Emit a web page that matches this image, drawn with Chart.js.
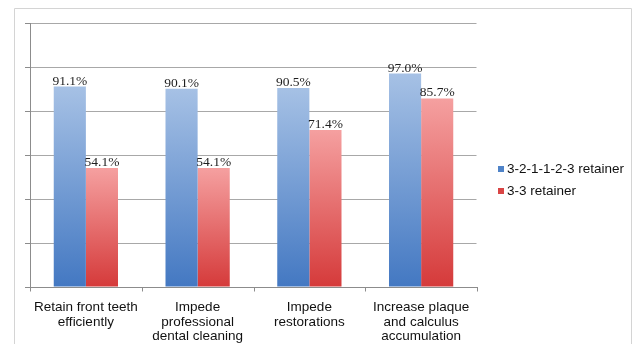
<!DOCTYPE html>
<html>
<head>
<meta charset="utf-8">
<script src="https://cdn.jsdelivr.net/npm/chart.js@4/dist/chart.umd.min.js"></script>
<style>
  html, body { margin: 0; padding: 0; background: #fff; }
  #wrap { position: relative; width: 638px; height: 344px; overflow: hidden; }
  canvas { position: absolute; left: 0; top: 0; }
</style>
</head>
<body>
<div id="wrap">
  <canvas id="c" width="638" height="344"></canvas>
</div>
<script>
// Survey items (multi-line category labels)
const categories = [
  ['Retain front teeth', 'efficiently'],
  ['Impede', 'professional', 'dental cleaning'],
  ['Impede', 'restorations'],
  ['Increase plaque', 'and calculus', 'accumulation']
];
const seriesNames = ['3-2-1-1-2-3 retainer', '3-3 retainer'];
const retainer321123 = [91.1, 90.1, 90.5, 97.0];
const retainer33 = [54.1, 54.1, 71.4, 85.7];
const yMin = 0, yMax = 120, yStep = 20;

const axisGrey = '#8c8c8c';
const gridGrey = '#a8a8a8';

// Vertical gradient for each bar: light at the top, saturated at the base
function barGradient(light, dark) {
  return function (context) {
    const chart = context.chart;
    if (!chart.chartArea || context.type !== 'data') return dark;
    const y = chart.scales.y;
    const top = y.getPixelForValue(context.raw);
    const base = y.getPixelForValue(0);
    const g = chart.ctx.createLinearGradient(0, top, 0, base);
    g.addColorStop(0, light);
    g.addColorStop(1, dark);
    return g;
  };
}

const legendSwatches = ['#4f83c8', '#d94545'];

// Thin outer frame around the whole figure
const outerFrame = {
  id: 'outerFrame',
  beforeDraw(chart) {
    const ctx = chart.ctx;
    ctx.save();
    ctx.strokeStyle = '#d4d4d4';
    ctx.lineWidth = 1;
    ctx.beginPath();
    ctx.moveTo(14.5, chart.height + 5);
    ctx.lineTo(14.5, 8.5);
    ctx.lineTo(631.5, 8.5);
    ctx.lineTo(631.5, chart.height + 5);
    ctx.stroke();
    ctx.restore();
  }
};

// Keep the right side of the plot open (no closing vertical edge)
const openRightEdge = {
  id: 'openRightEdge',
  afterDraw(chart) {
    const a = chart.chartArea;
    const ctx = chart.ctx;
    ctx.save();
    ctx.fillStyle = '#ffffff';
    ctx.fillRect(Math.round(a.right) - 0.5, a.top - 3, 3, a.bottom - a.top + 2);
    ctx.restore();
  }
};

// Short tick marks under the category axis, at the boundaries between categories
const categoryTicks = {
  id: 'categoryTicks',
  afterDraw(chart) {
    const x = chart.scales.x;
    const ctx = chart.ctx;
    const n = chart.data.labels.length;
    const half = (x.getPixelForValue(1) - x.getPixelForValue(0)) / 2;
    const yb = Math.round(chart.chartArea.bottom) + 0.5;
    ctx.save();
    ctx.strokeStyle = axisGrey;
    ctx.lineWidth = 1;
    ctx.beginPath();
    for (let i = 0; i <= n; i++) {
      const px = Math.round(x.getPixelForValue(0) - half + i * 2 * half) + 0.5;
      ctx.moveTo(px, yb);
      ctx.lineTo(px, yb + 4);
    }
    ctx.stroke();
    ctx.restore();
  }
};

// Value labels above each bar
const valueLabels = {
  id: 'valueLabels',
  afterDatasetsDraw(chart) {
    const ctx = chart.ctx;
    ctx.save();
    ctx.font = '13.5px "Liberation Serif", "Times New Roman", serif';
    ctx.fillStyle = '#1e1e1e';
    ctx.textAlign = 'center';
    ctx.textBaseline = 'alphabetic';
    chart.data.datasets.forEach((ds, i) => {
      chart.getDatasetMeta(i).data.forEach((bar, j) => {
        ctx.fillText(ds.data[j].toFixed(1) + '%', bar.x, bar.y - 2);
      });
    });
    ctx.restore();
  }
};

// Legend to the right of the plot
const sideLegend = {
  id: 'sideLegend',
  afterDraw(chart) {
    const ctx = chart.ctx;
    ctx.save();
    ctx.font = '13.5px "Liberation Sans", Arial, sans-serif';
    ctx.textBaseline = 'middle';
    ctx.textAlign = 'left';
    chart.data.datasets.forEach((ds, i) => {
      const cy = 169 + i * 22;
      ctx.fillStyle = legendSwatches[i];
      ctx.fillRect(498, cy - 3, 6, 6);
      ctx.fillStyle = '#111';
      ctx.fillText(ds.label, 507, cy + 0.5);
    });
    ctx.restore();
  }
};

new Chart(document.getElementById('c'), {
  type: 'bar',
  data: {
    labels: categories,
    datasets: [
      { label: seriesNames[0], data: retainer321123, backgroundColor: barGradient('#a6c1e5', '#4378c2') },
      { label: seriesNames[1], data: retainer33, backgroundColor: barGradient('#f5a0a0', '#d53a3a') }
    ]
  },
  options: {
    responsive: false,
    animation: false,
    devicePixelRatio: 1,
    layout: { padding: { left: 25, right: 161, top: 23, bottom: 0 } },
    datasets: { bar: { barPercentage: 1, categoryPercentage: 0.575, borderWidth: 0 } },
    plugins: { legend: { display: false }, tooltip: { enabled: false } },
    scales: {
      x: {
        afterFit(s) { s.height = 57; },
        grid: { display: false },
        border: { display: true, color: axisGrey, width: 1 },
        ticks: {
          color: '#111',
          padding: 5,
          font: { family: '"Liberation Sans", Arial, sans-serif', size: 13.5, lineHeight: 1.08 },
          maxRotation: 0,
          autoSkip: false
        }
      },
      y: {
        min: yMin,
        max: yMax,
        grid: { color: gridGrey, tickColor: axisGrey, tickLength: 5, drawTicks: true },
        border: { display: true, color: axisGrey, width: 1 },
        ticks: { display: false, stepSize: yStep }
      }
    }
  },
  plugins: [outerFrame, valueLabels, openRightEdge, categoryTicks, sideLegend]
});
</script>
</body>
</html>
